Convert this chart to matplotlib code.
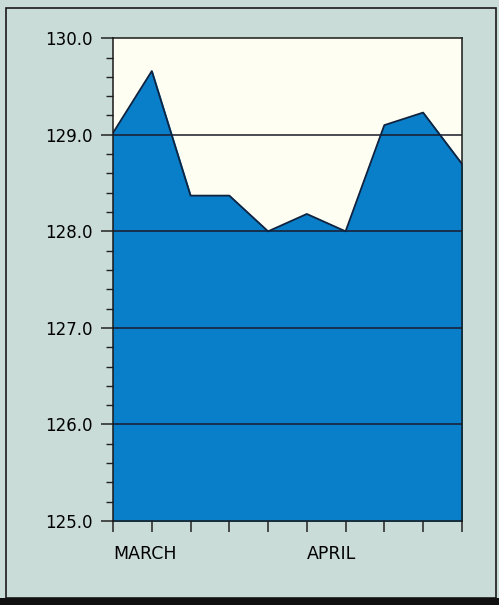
"""Area chart: weekly values from March into April"""

import numpy as np
import matplotlib.pyplot as plt
from matplotlib.patches import Rectangle

# Data (one point per week tick)
weeks = np.arange(10)
values = [129.02, 129.66, 128.37, 128.37, 128.00, 128.18, 128.00, 129.10, 129.23, 128.70]
month_labels = ['MARCH', '', '', '', '', 'APRIL', '', '', '', '']
y_major = [125.0, 126.0, 127.0, 128.0, 129.0, 130.0]

FILL = '#0a7fc9'
EDGE = '#10233f'
PAPER = '#c9dcd8'
PLOT_BG = '#fffef3'

fig = plt.figure(figsize=(4.99, 6.05), dpi=100, facecolor=PAPER)

# outer frame of the printed figure
fig.patches.append(Rectangle((0.012, 0.012), 0.982, 0.975, transform=fig.transFigure,
                             fill=False, edgecolor='#1a1a1a', linewidth=1.2))
fig.patches.append(Rectangle((0.0, 0.0), 1.0, 0.012, transform=fig.transFigure,
                             facecolor='#111111', edgecolor='none'))

ax = fig.add_axes([0.2265, 0.1388, 0.699, 0.798])
ax.set_facecolor(PLOT_BG)

ax.fill_between(weeks, values, 125.0, color=FILL, zorder=1)
ax.plot(weeks, values, color=EDGE, linewidth=1.3, zorder=3)

ax.set_xlim(0, 9)
ax.set_ylim(125.0, 130.0)

# y axis: labelled majors, four minors between
ax.set_yticks(y_major)
ax.set_yticklabels(['%.1f' % v for v in y_major])
ax.set_yticks(np.arange(125.0, 130.0, 0.2), minor=True)
ax.tick_params(axis='y', which='major', direction='out', length=9, width=1.1,
               pad=6, labelsize=12, color='#222222')
ax.tick_params(axis='y', which='minor', direction='out', length=5, width=1.0,
               color='#222222')

# x axis: a tick per week, month names left-aligned
ax.set_xticks(weeks)
ax.set_xticklabels(month_labels)
for lab in ax.get_xticklabels():
    lab.set_horizontalalignment('left')
ax.tick_params(axis='x', which='major', direction='out', length=8, width=1.1,
               pad=9, labelsize=12.5, color='#222222')

for y in y_major[1:-1]:
    ax.axhline(y, color='#1a1a2a', linewidth=1.1, zorder=2)

for s in ax.spines.values():
    s.set_color('#1a1a1a')
    s.set_linewidth(1.1)
    s.set_zorder(4)

plt.savefig('out.png', dpi=100, facecolor=PAPER)
